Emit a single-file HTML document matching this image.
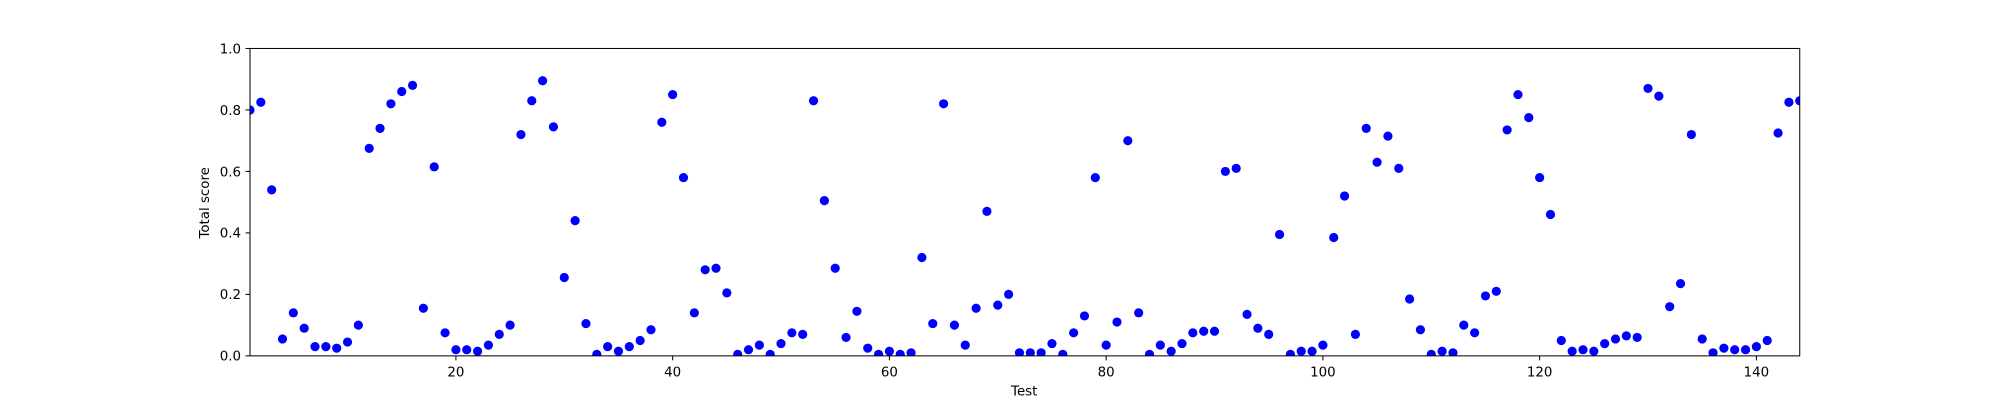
<!DOCTYPE html>
<html><head><meta charset="utf-8"><style>
body{margin:0;background:#fff;overflow:hidden}
svg text{font-family:"DejaVu Sans","Liberation Sans",sans-serif;font-size:10.5px;fill:#000}
</style></head><body>
<svg id="chart" width="2000" height="400" viewBox="0 0 1568 313.6" xmlns="http://www.w3.org/2000/svg">
<defs><clipPath id="clip"><rect x="196" y="38" width="1215" height="241"/></clipPath></defs>
<g id="points" clip-path="url(#clip)"></g>
<rect x="196" y="38" width="1215" height="241" fill="none" stroke="#000" stroke-width="0.8"/>
<g id="xticks"></g>
<g id="yticks"></g>
<text x="803" y="310" text-anchor="middle">Test</text>
<text transform="translate(164,159) rotate(-90)" text-anchor="middle">Total score</text>
</svg>
<script>
const scores = [0.80,0.825,0.54,0.055,0.14,0.09,0.03,0.03,0.025,0.045,0.10,0.675,0.74,0.82,0.86,0.88,0.155,0.615,0.075,0.02,
0.02,0.015,0.035,0.07,0.10,0.72,0.83,0.895,0.745,0.255,0.44,0.105,0.005,0.03,0.015,0.03,0.05,0.085,0.76,0.85,
0.58,0.14,0.28,0.285,0.205,0.005,0.02,0.035,0.005,0.04,0.075,0.07,0.83,0.505,0.285,0.06,0.145,0.025,0.005,0.015,
0.005,0.01,0.32,0.105,0.82,0.10,0.035,0.155,0.47,0.165,0.20,0.01,0.01,0.01,0.04,0.005,0.075,0.13,0.58,0.035,
0.11,0.70,0.14,0.005,0.035,0.015,0.04,0.075,0.08,0.08,0.60,0.61,0.135,0.09,0.07,0.395,0.005,0.015,0.015,0.035,
0.385,0.52,0.07,0.74,0.63,0.715,0.61,0.185,0.085,0.005,0.015,0.01,0.10,0.075,0.195,0.21,0.735,0.85,0.775,0.58,
0.46,0.05,0.015,0.02,0.015,0.04,0.055,0.065,0.06,0.87,0.845,0.16,0.235,0.72,0.055,0.01,0.025,0.02,0.02,0.03,
0.05,0.725,0.825,0.83];
const xTickLabels = [20,40,60,80,100,120,140];
const yTickLabels = ["0.0","0.2","0.4","0.6","0.8","1.0"];
const NS="http://www.w3.org/2000/svg";
const xMin=1,xMax=144,px0=196,px1=1411,py0=279,py1=38;
function xs(v){return px0+(v-xMin)/(xMax-xMin)*(px1-px0);}
function ys(v){return py0-v*(py0-py1);}
const pts=document.getElementById('points');
scores.forEach((s,i)=>{
  const c=document.createElementNS(NS,'circle');
  c.setAttribute('cx',xs(i+1));c.setAttribute('cy',ys(s));c.setAttribute('r',3.6);c.setAttribute('fill','#0000ff');
  
  
  pts.appendChild(c);
});
const xt=document.getElementById('xticks');
xTickLabels.forEach(v=>{
  const l=document.createElementNS(NS,'line');
  l.setAttribute('x1',xs(v));l.setAttribute('x2',xs(v));l.setAttribute('y1',279);l.setAttribute('y2',282.5);l.setAttribute('stroke','#000');l.setAttribute('stroke-width','0.8');
  
  
  xt.appendChild(l);
  const t=document.createElementNS(NS,'text');
  t.setAttribute('x',xs(v));t.setAttribute('y',295);t.setAttribute('text-anchor','middle');t.textContent=v;
  
  
  xt.appendChild(t);
});
const yt=document.getElementById('yticks');
yTickLabels.forEach(v=>{
  const y=ys(parseFloat(v));
  const l=document.createElementNS(NS,'line');
  l.setAttribute('x1',192.5);l.setAttribute('x2',196);l.setAttribute('y1',y);l.setAttribute('y2',y);l.setAttribute('stroke','#000');l.setAttribute('stroke-width','0.8');
  
  
  yt.appendChild(l);
  const t=document.createElementNS(NS,'text');
  t.setAttribute('x',189);t.setAttribute('y',y+3.8);t.setAttribute('text-anchor','end');t.textContent=v;
  
  
  yt.appendChild(t);
});
</script>
</body></html>
